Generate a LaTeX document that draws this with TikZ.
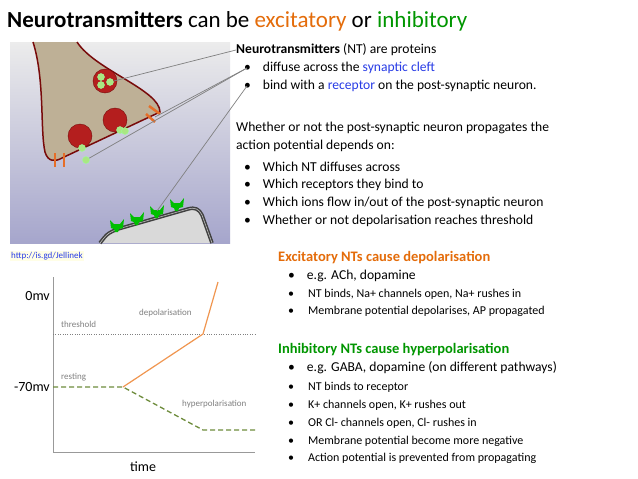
\documentclass[tikz,border=0pt]{standalone}
\usepackage{fontspec}
\setmainfont{Carlito}
\definecolor{exc}{RGB}{228,108,10}
\definecolor{inh}{RGB}{0,150,0}
\definecolor{lnk}{RGB}{40,60,230}
\definecolor{tan}{RGB}{190,176,150}
\definecolor{dred}{RGB}{120,10,10}
\definecolor{ves}{RGB}{180,30,30}
\definecolor{gball}{RGB}{170,230,130}
\definecolor{chan}{RGB}{230,110,40}
\definecolor{orng}{RGB}{240,150,80}
\definecolor{gdash}{RGB}{110,140,60}
\begin{document}
\begin{tikzpicture}[x=1pt,y=-1pt,
  txt/.style={anchor=west,inner sep=0pt,font=\fontsize{13.6}{15}\selectfont},
  hd/.style={anchor=west,inner sep=0pt,font=\fontsize{14.5}{16}\selectfont\bfseries},
  small/.style={anchor=west,inner sep=0pt,font=\fontsize{12}{13}\selectfont},
  glab/.style={anchor=west,inner sep=0pt,text=gray,font=\fontsize{9}{11}\selectfont},
  ax/.style={anchor=east,inner sep=0pt,font=\fontsize{14}{15}\selectfont},
  ball/.style={circle,fill=gball,draw=white!60!green,inner sep=0pt,minimum size=7pt},
  vesc/.style={circle,fill=ves,draw=dred,inner sep=0pt,minimum size=24pt},
  ptr/.style={gray,line width=0.7pt}]
\useasboundingbox (0,0) rectangle (638,479);
\fill[white] (0,0) rectangle (638,479);
% title
\node[anchor=west,inner sep=0pt,font=\fontsize{23}{26}\selectfont] (title) at (7,21)
 {\textbf{Neurotransmitters} can be \textcolor{exc}{excitatory} or \textcolor{inh}{inhibitory}};
% image
\shade[top color=white!85!gray,bottom color=white!75!blue!60!gray] (10,42) rectangle (230,243);
\path[fill=tan,draw=dred,line width=1.5pt] (33,42) .. controls (45,80) and (40,130) .. (45,152)
  .. controls (48,162) and (55,162) .. (62,158) -- (160,112)
  .. controls (160,90) and (95,70) .. (77,42);
\node[vesc] (v1) at (105,81) {};
\node[vesc] (v2) at (115,120) {};
\node[vesc] (v3) at (80,136) {};
\node[ball] (b1) at (101,77) {};\node[ball] (b2) at (101,85) {};\node[ball] (b3) at (110,82) {};
\node[ball] (b4) at (120,130) {};\node[ball] (b5) at (125,131) {};
\node[ball] (b6) at (82,148) {};\node[ball] (b7) at (86,160) {};
\foreach \x in {55,64}{\draw[chan,line width=2.5pt] (\x,153) -- (\x,167);}
\draw[chan,line width=2.5pt] (146,114) -- (155,122);
\draw[chan,line width=2.5pt] (149,106) -- (160,114);
\path[fill=white!70!gray,draw=darkgray,line width=1.5pt,double=white!50!gray] (100,243) -- (104,238)
  .. controls (107,234) and (110,232) .. (118,229) -- (188,209)
  .. controls (195,207) and (199,209) .. (202,215) -- (212,243);
\foreach \x/\y in {117/227, 137/220, 157/213, 177/206}{
  \fill[green!75!black] (\x-7,\y-7) -- (\x-3,\y-3) -- (\x+3,\y-3) -- (\x+7,\y-8) -- (\x+6,\y+1) -- (\x+2,\y+2) -- (\x+1,\y+5) -- (\x-2,\y+5) -- (\x-3,\y+2) -- (\x-6,\y+1) -- cycle;}
\coordinate (r1) at (157,211);
\node[anchor=west,inner sep=1pt,fill=white!90!yellow,text=lnk,font=\fontsize{9}{11}\selectfont] (link) at (10,256) {http://is.gd/Jellinek};
% text
\node[txt] (t1) at (236,50) {\textbf{Neurotransmitters} (NT) are proteins};
\node[txt] (t2) at (236,68) {\hspace{8pt}•\hspace{12pt}diffuse across the \textcolor{lnk}{synaptic cleft}};
\node[txt] (t3) at (236,86) {\hspace{8pt}•\hspace{12pt}bind with a \textcolor{lnk}{receptor} on the post-synaptic neuron.};
\node[txt] (t4) at (236,128) {Whether or not the post-synaptic neuron propagates the};
\node[txt] (t5) at (236,146) {action potential depends on:};
\node[txt] (t6) at (236,167) {\hspace{8pt}•\hspace{12pt}Which NT diffuses across};
\node[txt] (t7) at (236,185) {\hspace{8pt}•\hspace{12pt}Which receptors they bind to};
\node[txt] (t8) at (236,203) {\hspace{8pt}•\hspace{12pt}Which ions flow in/out of the post-synaptic neuron};
\node[txt] (t9) at (236,221) {\hspace{8pt}•\hspace{12pt}Whether or not depolarisation reaches threshold};
\draw[ptr] (t1.west) -- (b3);
\draw[ptr] ([xshift=11pt]t2.west) -- (155,117);
\draw[ptr] ([xshift=11pt]t2.west) -- (b7);
\draw[ptr] ([xshift=11pt]t3.west) -- (r1);
\node[hd,text=exc] (e0) at (278,258) {Excitatory NTs cause depolarisation};
\node[txt] (e1) at (278,276) {\hspace{10pt}•\hspace{12pt}e.g. ACh, dopamine};
\node[small] (e2) at (278,294) {\hspace{10pt}•\hspace{14pt}NT binds, Na+ channels open, Na+ rushes in};
\node[small] (e3) at (278,311) {\hspace{10pt}•\hspace{14pt}Membrane potential depolarises, AP propagated};
\node[hd,text=inh] (i0) at (278,350) {Inhibitory NTs cause hyperpolarisation};
\node[txt] (i1) at (278,368) {\hspace{10pt}•\hspace{12pt}e.g. GABA, dopamine (on different pathways)};
\node[small] (i2) at (278,387) {\hspace{10pt}•\hspace{14pt}NT binds to receptor};
\node[small] (i3) at (278,405) {\hspace{10pt}•\hspace{14pt}K+ channels open, K+ rushes out};
\node[small] (i4) at (278,423) {\hspace{10pt}•\hspace{14pt}OR Cl- channels open, Cl- rushes in};
\node[small] (i5) at (278,441) {\hspace{10pt}•\hspace{14pt}Membrane potential become more negative};
\node[small] (i6) at (278,458) {\hspace{10pt}•\hspace{14pt}Action potential is prevented from propagating};
% graph
\coordinate (o) at (53,452);
\draw[gray!80,line width=0.8pt] (53,277) -- (o) -- (255,452);
\draw[gray,dotted] (53,334) -- (255,334);
\coordinate (rs) at (123,387);
\draw[orng,line width=1.2pt] (rs) -- (203,334) -- (218,282);
\draw[gdash,line width=1.3pt,dash pattern=on 5pt off 3pt] (53,387) -- (rs) -- (203,430) -- (255,430);
\node[ax] (zero) at (50,296) {0mv};
\node[ax] (m70) at (50,387) {-70mv};
\node[glab] (th) at (61,324) {threshold};
\node[glab] (dp) at (139,313) {depolarisation};
\node[glab] (re) at (61,377) {resting};
\node[glab] (hp) at (182,404) {hyperpolarisation};
\node[inner sep=0pt,font=\fontsize{14}{15}\selectfont] (tm) at (143,467) {time};
\end{tikzpicture}
\end{document}
